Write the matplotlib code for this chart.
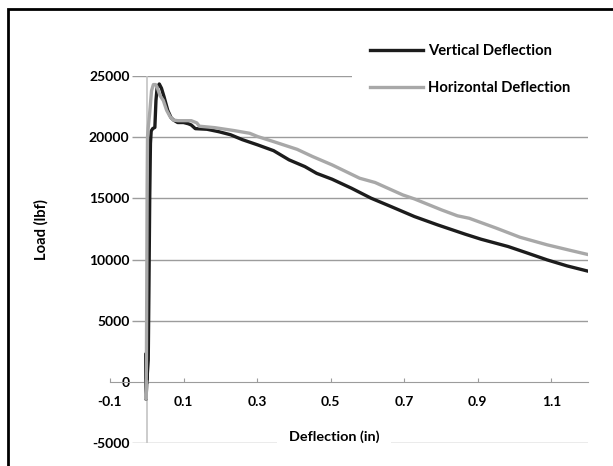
import matplotlib
matplotlib.use("Agg")
import matplotlib.pyplot as plt
from matplotlib.lines import Line2D
from matplotlib.patches import Rectangle

# load-deflection curves
vert_x = [0.0, -0.003, -0.003, -0.002, 0.0, 0.004, 0.006, 0.008, 0.010, 0.012, 0.016, 0.022,
          0.025, 0.028, 0.034, 0.040, 0.047, 0.057, 0.066, 0.073, 0.084, 0.100, 0.113, 0.121,
          0.132, 0.164, 0.196, 0.228, 0.260, 0.302, 0.345, 0.387, 0.430, 0.462, 0.504, 0.557,
          0.610, 0.664, 0.728, 0.791, 0.866, 0.909, 0.983, 1.036, 1.089, 1.143, 1.204]
vert_y = [0, 2300, 500, -1400, 0, 1800, 8000, 15000, 19500, 20500, 20700, 20800,
          23000, 24000, 24350, 24000, 23300, 22200, 21600, 21400, 21200, 21200, 21100, 21000,
          20700, 20650, 20450, 20200, 19800, 19370, 18900, 18150, 17600, 17050, 16570, 15830,
          15020, 14340, 13520, 12840, 12080, 11670, 11070, 10530, 9980, 9490, 9030]

horiz_x = [0.0, -0.002, -0.001, 0.0, 0.001, 0.002, 0.004, 0.008, 0.013, 0.018, 0.024, 0.028,
           0.036, 0.045, 0.054, 0.063, 0.072, 0.085, 0.100, 0.121, 0.136, 0.143, 0.185, 0.238,
           0.280, 0.302, 0.345, 0.409, 0.451, 0.504, 0.579, 0.621, 0.696, 0.728, 0.802, 0.845,
           0.877, 0.951, 1.015, 1.089, 1.153, 1.204]
horiz_y = [0, -1400, 1500, 8000, 16000, 20000, 20800, 22000, 23800, 24300, 24300, 24100,
           23400, 23000, 22200, 21700, 21400, 21350, 21350, 21350, 21170, 20900, 20780, 20540,
           20320, 20050, 19640, 19010, 18420, 17740, 16650, 16300, 15290, 14960, 14060, 13580,
           13380, 12570, 11830, 11210, 10750, 10390]

x_ticks = [-0.1, 0.1, 0.3, 0.5, 0.7, 0.9, 1.1]
y_ticks = [-5000, 0, 5000, 10000, 15000, 20000, 25000]
series_names = ["Vertical Deflection", "Horizontal Deflection"]

BLACK = "#1c1c1c"
GRAY = "#a8a8a8"
GRID = "#9c9c9c"

plt.rcParams['font.family'] = ['Lato', 'DejaVu Sans']
plt.rcParams['font.weight'] = 'bold'
FS = 10
FS_TXT = 10.6

W, H = 613, 466
fig = plt.figure(figsize=(W / 100, H / 100), dpi=100)
ax = fig.add_axes([110 / W, 1 - 443.3 / H, 478 / W, (443.3 - 76) / H])
ax.set_xlim(-0.1, 1.2)
ax.set_ylim(-5000, 25000)

# gridlines start just right of the value labels
ax.hlines([y for y in y_ticks if y != 0], -0.04, 1.2, color=GRID, lw=1, zorder=1)
ax.vlines(0, -5000, 25000, color="#c4c4c4", lw=1.2, zorder=1)

ax.plot(vert_x, vert_y, color=BLACK, lw=2.4, zorder=3, solid_joinstyle='round')
ax.plot(horiz_x, horiz_y, color=GRAY, lw=2.4, zorder=3, solid_joinstyle='round')

for s in ['top', 'right']:
    ax.spines[s].set_visible(False)
ax.spines['bottom'].set_position(('data', 0))
ax.spines['bottom'].set_color(GRID)
ax.spines['left'].set_position(('data', -0.043))
ax.spines['left'].set_visible(False)

ax.set_xticks(x_ticks)
ax.set_xticklabels([f"{v:.1f}" for v in x_ticks])
ax.tick_params(axis='x', direction='in', length=3, color=GRID, pad=10, labelsize=FS)
ax.set_yticks(y_ticks)
ax.set_yticklabels([str(v) for v in y_ticks])
ax.tick_params(axis='y', length=0, pad=1, labelsize=FS)
for lab in ax.get_yticklabels():
    lab.set_bbox(dict(facecolor='white', edgecolor='none', pad=0.5))
    lab.set_zorder(5)

ax.text(0.509, -4450, "Deflection (in)", ha='center', va='center', fontsize=10.4,
        fontweight='bold', zorder=5,
        bbox=dict(facecolor='white', edgecolor='none', boxstyle='square,pad=0.8'))
fig.text(41 / W, 1 - 230 / H, "Load (lbf)", rotation=90, ha='center', va='center',
         fontsize=FS_TXT, fontweight='bold')

handles = [Line2D([], [], color=BLACK, lw=2.4), Line2D([], [], color=GRAY, lw=2.4)]
fig.legend(handles, series_names, loc='upper left', bbox_to_anchor=(352 / W, 1 - 26 / H),
           borderaxespad=0, frameon=True, facecolor='white', edgecolor='none', framealpha=1,
           fancybox=False, fontsize=FS_TXT, handlelength=3.6, handletextpad=0.3,
           labelspacing=1.55, borderpad=1.25)

# outer chart border (only top and left edges fall inside the image)
fig.patches.append(Rectangle((8 / W, -0.1), 1.2, 1.1 - 8.5 / H, transform=fig.transFigure,
                             fill=False, edgecolor='black', lw=2, zorder=10))

fig.savefig("out.png", dpi=100)
